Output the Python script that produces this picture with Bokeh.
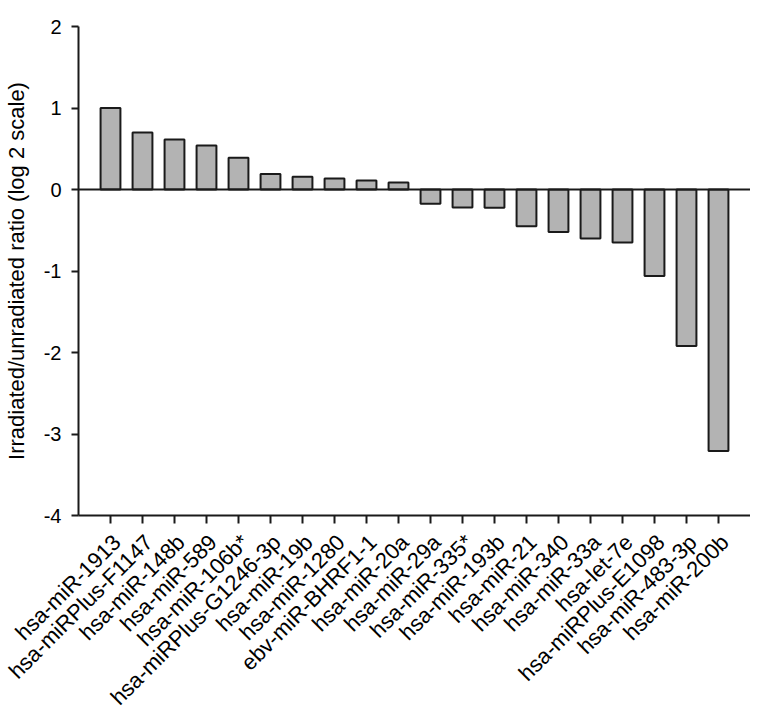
import math
from bokeh.plotting import figure
from bokeh.models import ColumnDataSource, Range1d, FixedTicker, Span, LinearAxis
from bokeh.embed import file_html
from bokeh.resources import INLINE

mirnas = [
    "hsa-miR-1913", "hsa-miRPlus-F1147", "hsa-miR-148b", "hsa-miR-589",
    "hsa-miR-106b*", "hsa-miRPlus-G1246-3p", "hsa-miR-19b", "hsa-miR-1280",
    "ebv-miR-BHRF1-1", "hsa-miR-20a", "hsa-miR-29a", "hsa-miR-335*",
    "hsa-miR-193b", "hsa-miR-21", "hsa-miR-340", "hsa-miR-33a",
    "hsa-let-7e", "hsa-miRPlus-E1098", "hsa-miR-483-3p", "hsa-miR-200b",
]
ratios = [1.00, 0.70, 0.615, 0.54, 0.39, 0.19, 0.155, 0.135, 0.11, 0.085,
          -0.175, -0.22, -0.225, -0.45, -0.52, -0.60, -0.65, -1.06, -1.92, -3.21]
y_ticks = [-4, -3, -2, -1, 0, 1, 2]
y_tick_labels = ["-4", "-3", "-2", "-1", "0", "1", "2"]

idx = list(range(len(mirnas)))
src = ColumnDataSource(dict(x=idx, top=ratios, name=mirnas))

FONT = "Liberation Sans"
SHIFT = 0.2  # label offset to the right, in bar units

p = figure(frame_width=672, frame_height=489, output_backend="svg", toolbar_location=None,
           x_range=Range1d(-1, len(mirnas)), y_range=Range1d(-4, 2),
           min_border_left=72, min_border_right=0, min_border_top=26,
           min_border_bottom=170)
p.outline_line_color = None
p.grid.visible = False
p.background_fill_color = "white"
p.border_fill_color = "white"
p.extra_x_ranges = {"lab": Range1d(-1 - SHIFT, len(mirnas) - SHIFT)}

p.vbar(x="x", top="top", bottom=0, width=0.62, source=src,
       fill_color="#b3b3b3", line_color="#1a1a1a", line_width=2)

p.add_layout(Span(location=0, dimension="width", line_color="#1a1a1a", line_width=2))

xa = p.xaxis[0]
xa.ticker = FixedTicker(ticks=idx)
xa.major_label_overrides = {i: "" for i in idx}
xa.major_label_text_font_size = "0px"
xa.major_label_standoff = 0
xa.major_tick_out = 8
xa.major_tick_in = 0
xa.minor_tick_out = 0
xa.minor_tick_in = 0
xa.axis_line_width = 2
xa.major_tick_line_width = 2
xa.axis_line_color = "#1a1a1a"
xa.major_tick_line_color = "#1a1a1a"

lab = LinearAxis(x_range_name="lab", ticker=FixedTicker(ticks=idx),
                 major_label_overrides={i: n for i, n in zip(idx, mirnas)})
lab.major_label_orientation = math.pi / 4
lab.major_label_text_font = FONT
lab.major_label_text_font_size = "22px"
lab.major_label_text_color = "black"
lab.major_label_standoff = 15
lab.axis_line_color = None
lab.major_tick_line_color = None
lab.minor_tick_line_color = None
lab.major_tick_out = 0
lab.major_tick_in = 0
lab.minor_tick_out = 0
lab.minor_tick_in = 0
p.add_layout(lab, "below")

ya = p.yaxis[0]
ya.ticker = FixedTicker(ticks=y_ticks)
ya.major_label_overrides = {t: s for t, s in zip(y_ticks, y_tick_labels)}
ya.axis_label = "Irradiated/unradiated ratio (log 2 scale)"
ya.axis_label_text_font = FONT
ya.axis_label_text_font_style = "normal"
ya.axis_label_text_font_size = "22px"
ya.axis_label_text_color = "black"
ya.axis_label_standoff = 12
ya.major_label_text_font = FONT
ya.major_label_text_font_size = "20px"
ya.major_label_text_color = "black"
ya.major_label_standoff = 10
ya.major_tick_out = 7
ya.major_tick_in = 0
ya.minor_tick_out = 0
ya.minor_tick_in = 0
ya.axis_line_width = 2
ya.major_tick_line_width = 2
ya.axis_line_color = "#1a1a1a"
ya.major_tick_line_color = "#1a1a1a"

open("out.html", "w").write(file_html(p, INLINE))
